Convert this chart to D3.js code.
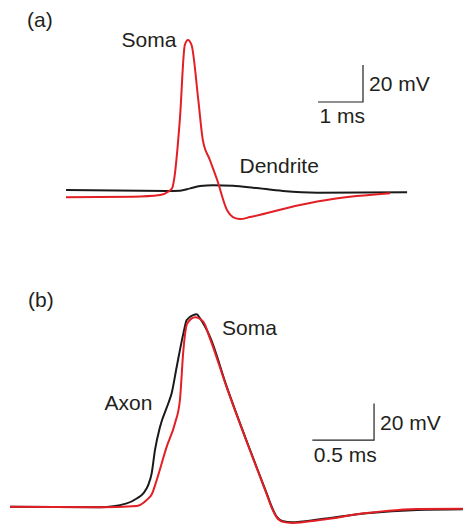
<!DOCTYPE html>
<html>
<head>
<meta charset="utf-8">
<script src="https://cdn.jsdelivr.net/npm/d3@7"></script>
<style>
  body { margin: 0; background: #fff; }
  text { font-family: "Liberation Sans", Arial, sans-serif; fill: #231f20; }
</style>
</head>
<body>
<script>
// panel (a): time in ms, voltage in mV
var somaA_t = [0, 1.49, 2.09, 2.27, 2.36, 2.40, 2.53, 2.64, 2.71, 2.79, 2.94, 3.04, 3.20, 3.36, 3.58, 3.71, 3.87, 4.09, 5.20, 5.93, 7.20];
var somaA_v = [-65, -64.7, -63.8, -62, -60, -55.7, -23, 17.3, 20, 17.3, -12.4, -34, -45, -55.7, -72, -75.7, -76.8, -75.7, -69.2, -66, -62.9];
var dendA_t = [0, 2.24, 2.53, 2.76, 2.98, 3.27, 3.71, 4.16, 4.82, 5.58, 7.58];
var dendA_v = [-61.1, -61.6, -61.5, -60.2, -58.9, -58.5, -58.8, -59.8, -61.6, -62.5, -62.3];

// panel (b)
var axonB_t = [0, 0.73, 0.946, 1.03, 1.08, 1.12, 1.148, 1.175, 1.216, 1.283, 1.31, 1.351, 1.405, 1.432, 1.485, 1.513, 1.54, 1.62, 1.756, 1.945, 2.08, 2.123, 2.16, 2.212, 2.285, 2.51, 2.89, 3.30, 3.67];
var axonB_v = [-70.1, -70.4, -68.3, -65.5, -62.8, -58.3, -51.9, -39.1, -26.4, -13.6, -8.1, 6.4, 24.6, 31.9, 34.6, 35, 32.8, 22.8, -4.5, -39.1, -62.8, -70.5, -75.5, -78.0, -78.6, -77, -73.7, -71.9, -71.5];
var somaB_t = [0, 0.73, 1.027, 1.108, 1.15, 1.189, 1.27, 1.337, 1.377, 1.405, 1.437, 1.5, 1.566, 1.62, 1.756, 1.945, 2.08, 2.123, 2.16, 2.212, 2.285, 2.51, 2.89, 3.30, 3.67];
var somaB_v = [-70.1, -70.4, -69.7, -66.4, -63.2, -55.5, -37.3, -24.5, -11.8, 15.5, 30.1, 33.4, 31, 21.9, -4.9, -39.4, -63.2, -71, -75.8, -78.4, -79, -77.4, -73.6, -71.4, -71.2];

var red = "#e31e24", black = "#1a1a1a";

var svg = d3.select("body").append("svg").attr("width", 464).attr("height", 525);

function zip(t, v) { return t.map(function(d, i) { return [d, v[i]]; }); }

function panel(x, y, traces, bar, labels) {
  var line = d3.line()
    .x(function(d) { return x(d[0]); })
    .y(function(d) { return y(d[1]); })
    .curve(d3.curveMonotoneX);

  svg.append("g").selectAll("path")
    .data(traces)
    .enter().append("path")
      .attr("d", function(d) { return line(zip(d.t, d.v)); })
      .attr("fill", "none")
      .attr("stroke", function(d) { return d.color; })
      .attr("stroke-width", 2)
      .attr("stroke-linejoin", "round");

  // scale bar: corner at (bar.t, bar.v)
  var cx = x(bar.t), cy = y(bar.v);
  svg.append("path")
    .attr("d", "M" + x(bar.t - bar.dt) + "," + cy + "H" + cx + "V" + y(bar.v + bar.dv))
    .attr("fill", "none")
    .attr("stroke", "#231f20")
    .attr("stroke-width", 1.2);
  svg.append("text").attr("x", cx + 6).attr("y", cy - 10.5).attr("font-size", 21).text(bar.dv + " mV");
  svg.append("text").attr("x", x(bar.t - bar.dt) + 1.5).attr("y", cy + 21.5).attr("font-size", 21).text(bar.dt + " ms");

  svg.append("g").selectAll("text")
    .data(labels)
    .enter().append("text")
      .attr("x", function(d) { return d.x; })
      .attr("y", function(d) { return d.y; })
      .attr("font-size", 21)
      .text(function(d) { return d.text; });
}

var xA = d3.scaleLinear().domain([0, 7.6]).range([66, 408]);
var yA = d3.scaleLinear().domain([-80, 25]).range([225, 30.75]);
panel(xA, yA,
  [{t: dendA_t, v: dendA_v, color: black}, {t: somaA_t, v: somaA_v, color: red}],
  {t: 6.6, v: -13.5, dt: 1, dv: 20},
  [{x: 27, y: 26.5, text: "(a)"}, {x: 121.5, y: 46.5, text: "Soma"}, {x: 239.5, y: 172.5, text: "Dendrite"}]);

var xB = d3.scaleLinear().domain([0, 3.67]).range([10, 462.9]);
var yB = d3.scaleLinear().domain([-80, 40]).range([524.8, 305.2]);
panel(xB, yB,
  [{t: axonB_t, v: axonB_v, color: black}, {t: somaB_t, v: somaB_v, color: red}],
  {t: 2.95, v: -33.7, dt: 0.5, dv: 20},
  [{x: 28, y: 306.5, text: "(b)"}, {x: 222, y: 334.5, text: "Soma"}, {x: 104.5, y: 409.5, text: "Axon"}]);
</script>
</body>
</html>
